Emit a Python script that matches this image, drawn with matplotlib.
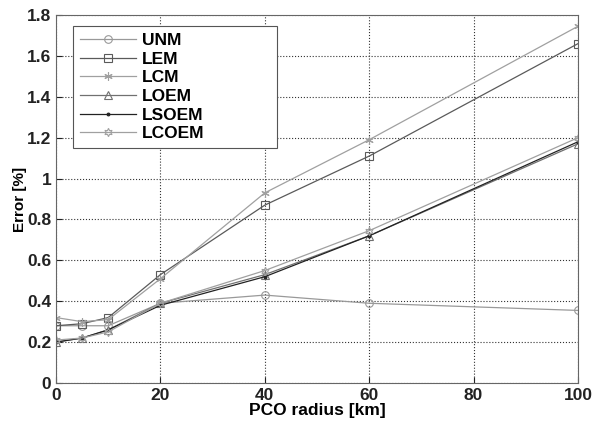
import matplotlib.pyplot as plt

radius = [0, 5, 10, 20, 40, 60, 100]
unm = [0.28, 0.28, 0.28, 0.39, 0.43, 0.39, 0.355]
lem = [0.28, 0.29, 0.32, 0.53, 0.87, 1.11, 1.66]
lcm = [0.32, 0.30, 0.31, 0.51, 0.93, 1.19, 1.745]
loem = [0.20, 0.22, 0.26, 0.39, 0.53, 0.72, 1.17]
lsoem = [0.20, 0.22, 0.26, 0.38, 0.52, 0.72, 1.18]
lcoem = [0.21, 0.22, 0.25, 0.39, 0.55, 0.745, 1.20]

# name, values, marker, colour, marker size
series = [
    ("UNM", unm, "o", "#999999", 5.5),
    ("LEM", lem, "s", "#5a5a5a", 5.5),
    ("LCM", lcm, (6, 2, 0), "#a0a0a0", 6),
    ("LOEM", loem, "^", "#707070", 5.5),
    ("LSOEM", lsoem, ".", "#222222", 4),
    ("LCOEM", lcoem, (6, 1, 0), "#a0a0a0", 6),
]

plt.rcParams['font.family'] = ['Liberation Sans', 'DejaVu Sans']

fig = plt.figure(figsize=(5.93, 4.21), dpi=100)
ax = fig.add_axes([56 / 593, 1 - 383 / 421, 522 / 593, 368 / 421])

for name, vals, mk, col, ms in series:
    ax.plot(radius, vals, marker=mk, color=col,
            markerfacecolor=col if mk == '.' else 'none',
            markeredgecolor=col, markersize=ms, linewidth=0.9,
            markeredgewidth=0.8, label=name)

ax.set_xlim(0, 100)
ax.set_ylim(0, 1.8)
ax.set_xticks([0, 20, 40, 60, 80, 100])
ax.set_yticks([0, 0.2, 0.4, 0.6, 0.8, 1, 1.2, 1.4, 1.6, 1.8])
ax.set_yticklabels(['0', '0.2', '0.4', '0.6', '0.8', '1', '1.2', '1.4', '1.6', '1.8'])
ax.grid(True, linestyle=':', color='#333333', linewidth=0.8)
ax.tick_params(direction='in', length=4, labelsize=12.5, colors='#222222')
for lbl in ax.get_xticklabels() + ax.get_yticklabels():
    lbl.set_fontweight('bold')
for sp in ax.spines.values():
    sp.set_color('#666666')

ax.set_xlabel("PCO radius [km]", fontsize=12.5, fontweight='bold', labelpad=0)
ax.set_ylabel("Error [%]", fontsize=11, fontweight='bold', labelpad=0)

leg = ax.legend(loc='upper left', bbox_to_anchor=(0.0326, 0.658, 0.39, 0.312),
                mode='expand', fancybox=False, edgecolor='#555555', framealpha=1,
                handlelength=3.2, handletextpad=0.35,
                prop={'weight': 'bold', 'size': 12.5}, labelspacing=0.2,
                borderpad=0.4, borderaxespad=0)
leg.get_frame().set_linewidth(0.8)

fig.savefig("out.png", dpi=100)
